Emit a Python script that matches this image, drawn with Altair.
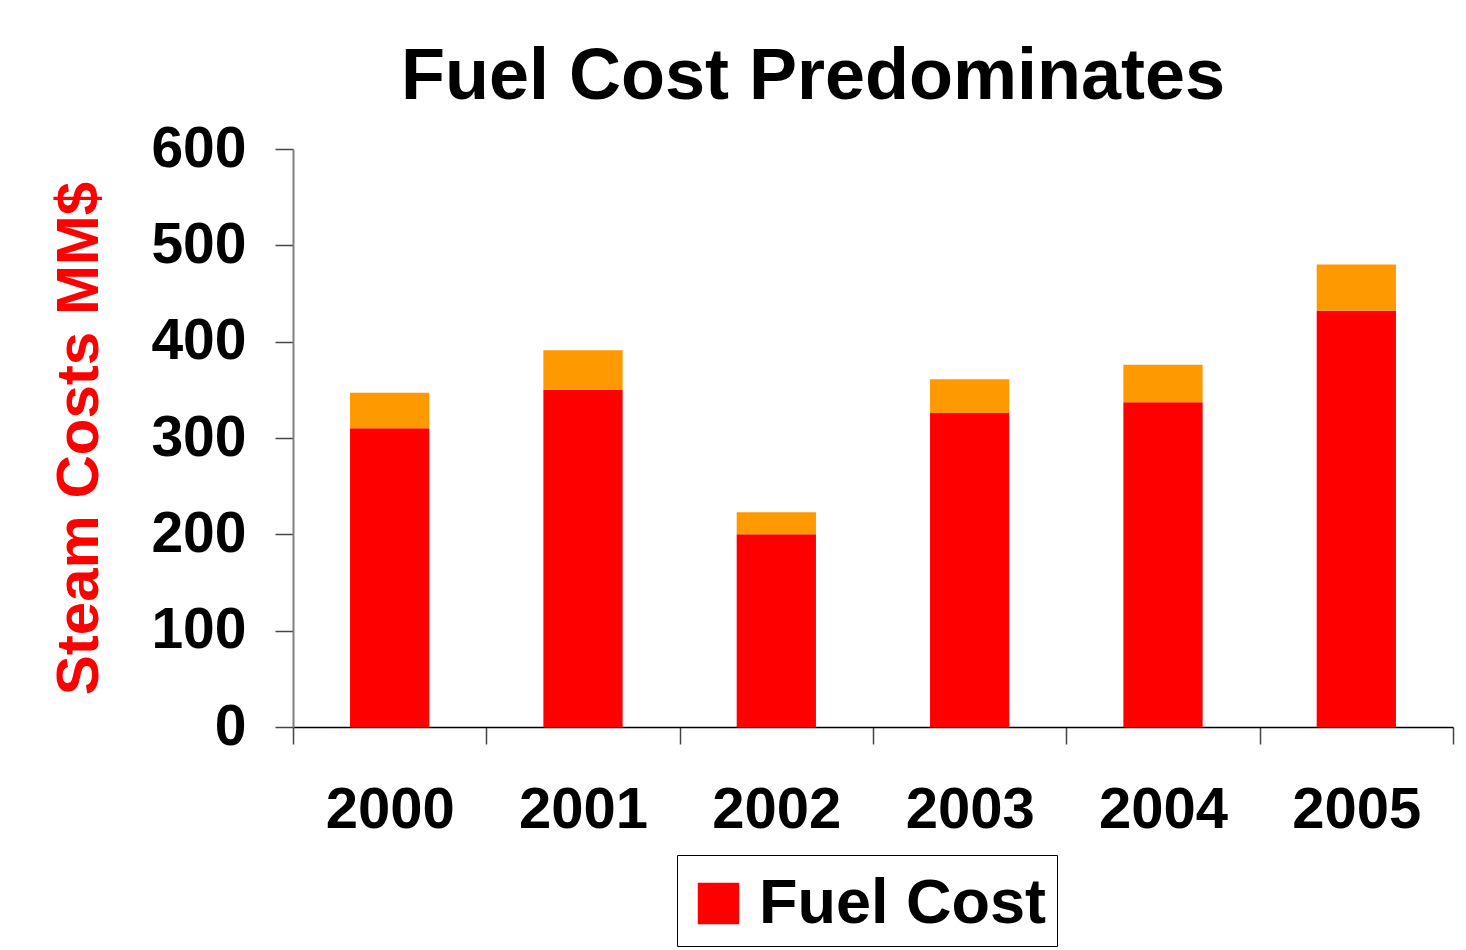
import altair as alt
import pandas as pd

years = ["2000", "2001", "2002", "2003", "2004", "2005"]
fuel_cost = [310, 350, 200, 326, 337, 432]
other_cost = [37, 41, 23, 35, 39, 48]
series = ["Fuel Cost", "Other Costs"]
colors = ["#FF0000", "#FF9900"]
y_ticks = [0, 100, 200, 300, 400, 500, 600]

rows = []
for yr, f, o in zip(years, fuel_cost, other_cost):
    rows.append({"Year": yr, "Component": series[0], "Cost": f, "Order": 0})
    rows.append({"Year": yr, "Component": series[1], "Cost": o, "Order": 1})
df = pd.DataFrame(rows)

FONT = "Liberation Sans"

chart = alt.Chart(df).mark_bar(width=alt.RelativeBandSize(0.41)).encode(
    x=alt.X(
        "Year:N",
        sort=years,
        scale=alt.Scale(paddingInner=0, paddingOuter=0),
        axis=alt.Axis(
            title=None, labelAngle=0, labelFontSize=58, labelFontWeight="bold",
            labelFont=FONT, labelColor="black", labelPadding=37, tickSize=17,
            tickBand="extent", domainColor="black", tickColor="#444444",
            domainWidth=1.5, tickWidth=1.5,
        ),
    ),
    y=alt.Y(
        "Cost:Q",
        stack="zero",
        scale=alt.Scale(domain=[0, 600]),
        axis=alt.Axis(
            values=y_ticks, title="Steam Costs MM$", titleColor="#FF0000",
            titleFontSize=60, titleFontWeight="bold", titleFont=FONT,
            titleX=-214, titleBaseline="middle", titleAlign="center",
            labelFontSize=57, labelFontWeight="bold", labelFont=FONT,
            labelColor="black", labelPadding=29, tickSize=18, grid=False,
            domainColor="#808080", tickColor="#444444", domainWidth=2, tickWidth=1.5,
        ),
    ),
    color=alt.Color(
        "Component:N",
        scale=alt.Scale(domain=series, range=colors),
        legend=alt.Legend(
            values=["Fuel Cost"], title=" ", titleFontSize=6, titlePadding=1,
            orient="none", legendX=384, legendY=706,
            strokeColor="black", fillColor="white", padding=10,
            symbolType="square", symbolSize=1720, symbolStrokeWidth=0,
            labelFontSize=63, labelFont=FONT, labelFontWeight="bold",
            labelColor="black", labelOffset=9, labelLimit=0,
            labelExpr="datum.label + '\u2009'",
        ),
    ),
    order=alt.Order("Order:Q"),
).properties(
    width=1160,
    height=578,
    autosize=alt.AutoSizeParams(type="none"),
    padding={"left": 285, "top": 141, "right": 5, "bottom": 222},
    title=alt.TitleParams(
        "Fuel Cost Predominates", fontSize=72, fontWeight="bold", font=FONT,
        color="black", anchor="middle", dx=-60, offset=6,
    ),
).configure(background="white").configure_view(stroke=None, strokeWidth=0)

chart.save("out.html", embed_options={"renderer": "svg", "actions": False})
